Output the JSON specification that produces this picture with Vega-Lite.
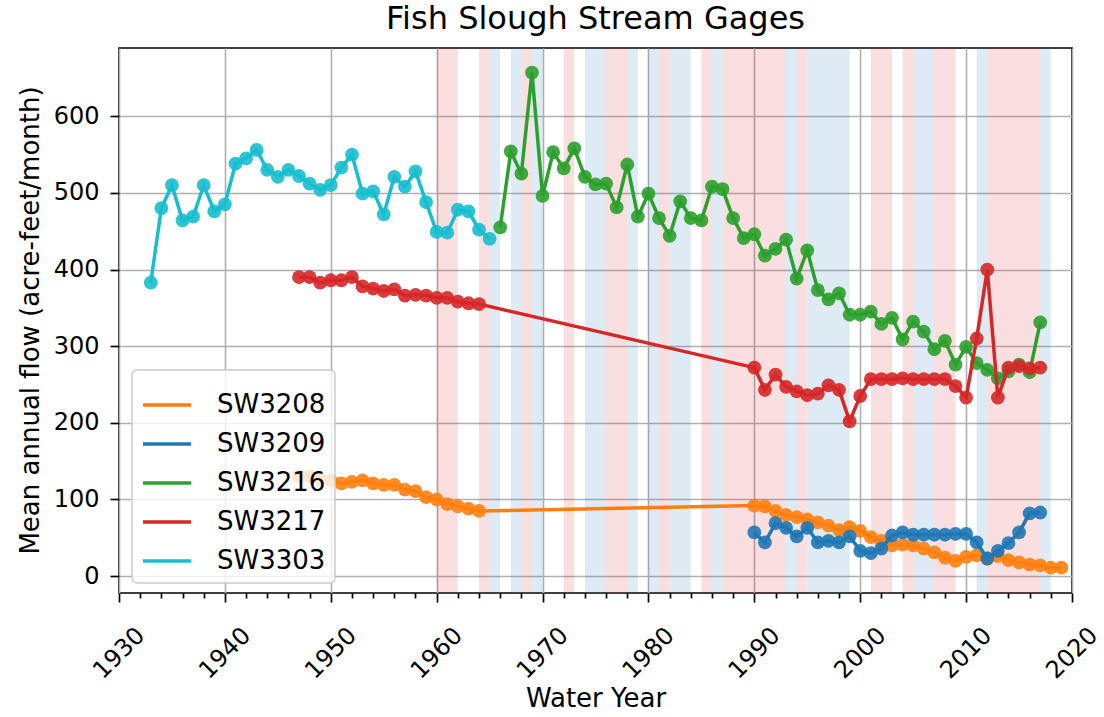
{
  "$schema": "https://vega.github.io/schema/vega-lite/v6.json",
  "width": 953,
  "height": 545,
  "autosize": {"type": "none"},
  "padding": {"left": 119, "top": 48, "right": 32, "bottom": 124},
  "title": {"text": "Fish Slough Stream Gages", "fontSize": 32, "font": "DejaVu Sans", "fontWeight": "normal", "color": "black", "baseline": "alphabetic", "offset": 16, "dy": 29},
  "datasets": {
    "bands": [
      {"start": 1960, "end": 1962, "kind": "dry"},
      {"start": 1964, "end": 1965, "kind": "dry"},
      {"start": 1965, "end": 1966, "kind": "wet"},
      {"start": 1967, "end": 1968, "kind": "wet"},
      {"start": 1968, "end": 1969, "kind": "dry"},
      {"start": 1969, "end": 1970, "kind": "wet"},
      {"start": 1972, "end": 1973, "kind": "dry"},
      {"start": 1974, "end": 1976, "kind": "wet"},
      {"start": 1976, "end": 1978, "kind": "dry"},
      {"start": 1978, "end": 1979, "kind": "wet"},
      {"start": 1980, "end": 1981, "kind": "wet"},
      {"start": 1981, "end": 1982, "kind": "dry"},
      {"start": 1982, "end": 1984, "kind": "wet"},
      {"start": 1985, "end": 1986, "kind": "dry"},
      {"start": 1986, "end": 1987, "kind": "wet"},
      {"start": 1987, "end": 1993, "kind": "dry"},
      {"start": 1993, "end": 1994, "kind": "wet"},
      {"start": 1994, "end": 1995, "kind": "dry"},
      {"start": 1995, "end": 1999, "kind": "wet"},
      {"start": 2001, "end": 2003, "kind": "dry"},
      {"start": 2004, "end": 2005, "kind": "dry"},
      {"start": 2005, "end": 2007, "kind": "wet"},
      {"start": 2007, "end": 2009, "kind": "dry"},
      {"start": 2011, "end": 2012, "kind": "wet"},
      {"start": 2012, "end": 2017, "kind": "dry"},
      {"start": 2017, "end": 2018, "kind": "wet"}
    ],
    "flows": [
      {"series": "SW3208", "year": 1947, "flow": 130},
      {"series": "SW3208", "year": 1948, "flow": 130},
      {"series": "SW3208", "year": 1949, "flow": 127},
      {"series": "SW3208", "year": 1950, "flow": 125},
      {"series": "SW3208", "year": 1951, "flow": 121},
      {"series": "SW3208", "year": 1952, "flow": 123},
      {"series": "SW3208", "year": 1953, "flow": 125},
      {"series": "SW3208", "year": 1954, "flow": 121},
      {"series": "SW3208", "year": 1955, "flow": 119},
      {"series": "SW3208", "year": 1956, "flow": 119},
      {"series": "SW3208", "year": 1957, "flow": 113},
      {"series": "SW3208", "year": 1958, "flow": 111},
      {"series": "SW3208", "year": 1959, "flow": 103},
      {"series": "SW3208", "year": 1960, "flow": 100},
      {"series": "SW3208", "year": 1961, "flow": 94},
      {"series": "SW3208", "year": 1962, "flow": 91},
      {"series": "SW3208", "year": 1963, "flow": 88},
      {"series": "SW3208", "year": 1964, "flow": 85},
      {"series": "SW3208", "year": 1990, "flow": 92},
      {"series": "SW3208", "year": 1991, "flow": 91},
      {"series": "SW3208", "year": 1992, "flow": 85},
      {"series": "SW3208", "year": 1993, "flow": 80},
      {"series": "SW3208", "year": 1994, "flow": 77},
      {"series": "SW3208", "year": 1995, "flow": 74},
      {"series": "SW3208", "year": 1996, "flow": 70},
      {"series": "SW3208", "year": 1997, "flow": 66},
      {"series": "SW3208", "year": 1998, "flow": 60},
      {"series": "SW3208", "year": 1999, "flow": 64},
      {"series": "SW3208", "year": 2000, "flow": 59},
      {"series": "SW3208", "year": 2001, "flow": 51},
      {"series": "SW3208", "year": 2002, "flow": 46},
      {"series": "SW3208", "year": 2003, "flow": 40},
      {"series": "SW3208", "year": 2004, "flow": 41},
      {"series": "SW3208", "year": 2005, "flow": 40},
      {"series": "SW3208", "year": 2006, "flow": 36},
      {"series": "SW3208", "year": 2007, "flow": 31},
      {"series": "SW3208", "year": 2008, "flow": 24},
      {"series": "SW3208", "year": 2009, "flow": 20},
      {"series": "SW3208", "year": 2010, "flow": 25},
      {"series": "SW3208", "year": 2011, "flow": 27},
      {"series": "SW3208", "year": 2012, "flow": 23},
      {"series": "SW3208", "year": 2013, "flow": 26},
      {"series": "SW3208", "year": 2014, "flow": 21},
      {"series": "SW3208", "year": 2015, "flow": 18},
      {"series": "SW3208", "year": 2016, "flow": 15},
      {"series": "SW3208", "year": 2017, "flow": 14},
      {"series": "SW3208", "year": 2018, "flow": 11},
      {"series": "SW3208", "year": 2019, "flow": 11},
      {"series": "SW3209", "year": 1990, "flow": 57},
      {"series": "SW3209", "year": 1991, "flow": 44},
      {"series": "SW3209", "year": 1992, "flow": 69},
      {"series": "SW3209", "year": 1993, "flow": 63},
      {"series": "SW3209", "year": 1994, "flow": 52},
      {"series": "SW3209", "year": 1995, "flow": 63},
      {"series": "SW3209", "year": 1996, "flow": 44},
      {"series": "SW3209", "year": 1997, "flow": 46},
      {"series": "SW3209", "year": 1998, "flow": 44},
      {"series": "SW3209", "year": 1999, "flow": 52},
      {"series": "SW3209", "year": 2000, "flow": 33},
      {"series": "SW3209", "year": 2001, "flow": 30},
      {"series": "SW3209", "year": 2002, "flow": 36},
      {"series": "SW3209", "year": 2003, "flow": 53},
      {"series": "SW3209", "year": 2004, "flow": 57},
      {"series": "SW3209", "year": 2005, "flow": 54},
      {"series": "SW3209", "year": 2006, "flow": 54},
      {"series": "SW3209", "year": 2007, "flow": 54},
      {"series": "SW3209", "year": 2008, "flow": 54},
      {"series": "SW3209", "year": 2009, "flow": 55},
      {"series": "SW3209", "year": 2010, "flow": 55},
      {"series": "SW3209", "year": 2011, "flow": 44},
      {"series": "SW3209", "year": 2012, "flow": 23},
      {"series": "SW3209", "year": 2013, "flow": 33},
      {"series": "SW3209", "year": 2014, "flow": 43},
      {"series": "SW3209", "year": 2015, "flow": 57},
      {"series": "SW3209", "year": 2016, "flow": 82},
      {"series": "SW3209", "year": 2017, "flow": 83},
      {"series": "SW3216", "year": 1966, "flow": 455},
      {"series": "SW3216", "year": 1967, "flow": 554},
      {"series": "SW3216", "year": 1968, "flow": 525},
      {"series": "SW3216", "year": 1969, "flow": 657},
      {"series": "SW3216", "year": 1970, "flow": 496},
      {"series": "SW3216", "year": 1971, "flow": 553},
      {"series": "SW3216", "year": 1972, "flow": 532},
      {"series": "SW3216", "year": 1973, "flow": 558},
      {"series": "SW3216", "year": 1974, "flow": 521},
      {"series": "SW3216", "year": 1975, "flow": 511},
      {"series": "SW3216", "year": 1976, "flow": 512},
      {"series": "SW3216", "year": 1977, "flow": 481},
      {"series": "SW3216", "year": 1978, "flow": 537},
      {"series": "SW3216", "year": 1979, "flow": 469},
      {"series": "SW3216", "year": 1980, "flow": 499},
      {"series": "SW3216", "year": 1981, "flow": 467},
      {"series": "SW3216", "year": 1982, "flow": 444},
      {"series": "SW3216", "year": 1983, "flow": 489},
      {"series": "SW3216", "year": 1984, "flow": 467},
      {"series": "SW3216", "year": 1985, "flow": 464},
      {"series": "SW3216", "year": 1986, "flow": 508},
      {"series": "SW3216", "year": 1987, "flow": 505},
      {"series": "SW3216", "year": 1988, "flow": 467},
      {"series": "SW3216", "year": 1989, "flow": 441},
      {"series": "SW3216", "year": 1990, "flow": 446},
      {"series": "SW3216", "year": 1991, "flow": 418},
      {"series": "SW3216", "year": 1992, "flow": 427},
      {"series": "SW3216", "year": 1993, "flow": 439},
      {"series": "SW3216", "year": 1994, "flow": 388},
      {"series": "SW3216", "year": 1995, "flow": 425},
      {"series": "SW3216", "year": 1996, "flow": 373},
      {"series": "SW3216", "year": 1997, "flow": 361},
      {"series": "SW3216", "year": 1998, "flow": 369},
      {"series": "SW3216", "year": 1999, "flow": 341},
      {"series": "SW3216", "year": 2000, "flow": 341},
      {"series": "SW3216", "year": 2001, "flow": 345},
      {"series": "SW3216", "year": 2002, "flow": 329},
      {"series": "SW3216", "year": 2003, "flow": 337},
      {"series": "SW3216", "year": 2004, "flow": 309},
      {"series": "SW3216", "year": 2005, "flow": 332},
      {"series": "SW3216", "year": 2006, "flow": 319},
      {"series": "SW3216", "year": 2007, "flow": 296},
      {"series": "SW3216", "year": 2008, "flow": 307},
      {"series": "SW3216", "year": 2009, "flow": 276},
      {"series": "SW3216", "year": 2010, "flow": 299},
      {"series": "SW3216", "year": 2011, "flow": 278},
      {"series": "SW3216", "year": 2012, "flow": 269},
      {"series": "SW3216", "year": 2013, "flow": 258},
      {"series": "SW3216", "year": 2014, "flow": 267},
      {"series": "SW3216", "year": 2015, "flow": 276},
      {"series": "SW3216", "year": 2016, "flow": 266},
      {"series": "SW3216", "year": 2017, "flow": 331},
      {"series": "SW3217", "year": 1947, "flow": 390},
      {"series": "SW3217", "year": 1948, "flow": 390},
      {"series": "SW3217", "year": 1949, "flow": 383},
      {"series": "SW3217", "year": 1950, "flow": 386},
      {"series": "SW3217", "year": 1951, "flow": 386},
      {"series": "SW3217", "year": 1952, "flow": 390},
      {"series": "SW3217", "year": 1953, "flow": 378},
      {"series": "SW3217", "year": 1954, "flow": 375},
      {"series": "SW3217", "year": 1955, "flow": 372},
      {"series": "SW3217", "year": 1956, "flow": 374},
      {"series": "SW3217", "year": 1957, "flow": 366},
      {"series": "SW3217", "year": 1958, "flow": 367},
      {"series": "SW3217", "year": 1959, "flow": 366},
      {"series": "SW3217", "year": 1960, "flow": 363},
      {"series": "SW3217", "year": 1961, "flow": 363},
      {"series": "SW3217", "year": 1962, "flow": 358},
      {"series": "SW3217", "year": 1963, "flow": 356},
      {"series": "SW3217", "year": 1964, "flow": 355},
      {"series": "SW3217", "year": 1990, "flow": 272},
      {"series": "SW3217", "year": 1991, "flow": 243},
      {"series": "SW3217", "year": 1992, "flow": 263},
      {"series": "SW3217", "year": 1993, "flow": 247},
      {"series": "SW3217", "year": 1994, "flow": 241},
      {"series": "SW3217", "year": 1995, "flow": 236},
      {"series": "SW3217", "year": 1996, "flow": 238},
      {"series": "SW3217", "year": 1997, "flow": 249},
      {"series": "SW3217", "year": 1998, "flow": 243},
      {"series": "SW3217", "year": 1999, "flow": 202},
      {"series": "SW3217", "year": 2000, "flow": 235},
      {"series": "SW3217", "year": 2001, "flow": 257},
      {"series": "SW3217", "year": 2002, "flow": 257},
      {"series": "SW3217", "year": 2003, "flow": 257},
      {"series": "SW3217", "year": 2004, "flow": 258},
      {"series": "SW3217", "year": 2005, "flow": 257},
      {"series": "SW3217", "year": 2006, "flow": 257},
      {"series": "SW3217", "year": 2007, "flow": 257},
      {"series": "SW3217", "year": 2008, "flow": 257},
      {"series": "SW3217", "year": 2009, "flow": 248},
      {"series": "SW3217", "year": 2010, "flow": 233},
      {"series": "SW3217", "year": 2011, "flow": 310},
      {"series": "SW3217", "year": 2012, "flow": 400},
      {"series": "SW3217", "year": 2013, "flow": 233},
      {"series": "SW3217", "year": 2014, "flow": 272},
      {"series": "SW3217", "year": 2015, "flow": 274},
      {"series": "SW3217", "year": 2016, "flow": 271},
      {"series": "SW3217", "year": 2017, "flow": 272},
      {"series": "SW3303", "year": 1933, "flow": 383},
      {"series": "SW3303", "year": 1934, "flow": 480},
      {"series": "SW3303", "year": 1935, "flow": 510},
      {"series": "SW3303", "year": 1936, "flow": 464},
      {"series": "SW3303", "year": 1937, "flow": 469},
      {"series": "SW3303", "year": 1938, "flow": 510},
      {"series": "SW3303", "year": 1939, "flow": 476},
      {"series": "SW3303", "year": 1940, "flow": 485},
      {"series": "SW3303", "year": 1941, "flow": 538},
      {"series": "SW3303", "year": 1942, "flow": 545},
      {"series": "SW3303", "year": 1943, "flow": 556},
      {"series": "SW3303", "year": 1944, "flow": 530},
      {"series": "SW3303", "year": 1945, "flow": 521},
      {"series": "SW3303", "year": 1946, "flow": 530},
      {"series": "SW3303", "year": 1947, "flow": 522},
      {"series": "SW3303", "year": 1948, "flow": 512},
      {"series": "SW3303", "year": 1949, "flow": 504},
      {"series": "SW3303", "year": 1950, "flow": 510},
      {"series": "SW3303", "year": 1951, "flow": 533},
      {"series": "SW3303", "year": 1952, "flow": 550},
      {"series": "SW3303", "year": 1953, "flow": 499},
      {"series": "SW3303", "year": 1954, "flow": 502},
      {"series": "SW3303", "year": 1955, "flow": 472},
      {"series": "SW3303", "year": 1956, "flow": 521},
      {"series": "SW3303", "year": 1957, "flow": 508},
      {"series": "SW3303", "year": 1958, "flow": 528},
      {"series": "SW3303", "year": 1959, "flow": 488},
      {"series": "SW3303", "year": 1960, "flow": 449},
      {"series": "SW3303", "year": 1961, "flow": 448},
      {"series": "SW3303", "year": 1962, "flow": 478},
      {"series": "SW3303", "year": 1963, "flow": 476},
      {"series": "SW3303", "year": 1964, "flow": 452},
      {"series": "SW3303", "year": 1965, "flow": 440}
    ]
  },
  "layer": [
    {
      "data": {"name": "bands"},
      "mark": {"type": "rect", "opacity": 0.15},
      "encoding": {
        "x": {
          "field": "start", "type": "quantitative",
          "scale": {"domain": [1930, 2020], "nice": false, "zero": false},
          "axis": {
            "title": "Water Year",
            "values": [1930,1932,1934,1936,1938,1940,1942,1944,1946,1948,1950,1952,1954,1956,1958,1960,1962,1964,1966,1968,1970,1972,1974,1976,1978,1980,1982,1984,1986,1988,1990,1992,1994,1996,1998,2000,2002,2004,2006,2008,2010,2012,2014,2016,2018,2020],
            "format": "d",
            "labelExpr": "datum.value % 10 === 0 ? datum.label : ''",
            "labelAngle": -45,
            "labelAlign": "center",
            "labelBaseline": "middle",
            "labelPadding": 51,
            "labelOverlap": false,
            "labelFlush": false,
            "tickSize": {"condition": {"test": "datum.value % 10 === 0", "value": 9}, "value": 5},
            "grid": true,
            "gridOpacity": {"condition": {"test": "datum.value % 10 === 0", "value": 1}, "value": 0},
            "titleY": 105,
            "titleBaseline": "middle"
          }
        },
        "x2": {"field": "end"},
        "fill": {"field": "kind", "type": "nominal", "scale": {"domain": ["dry", "wet"], "range": ["#d62728", "#1f77b4"]}, "legend": null}
      }
    },
    {
      "data": {"name": "flows"},
      "encoding": {
        "x": {
          "field": "year", "type": "quantitative",
          "scale": {"domain": [1930, 2020], "nice": false, "zero": false},
          "axis": {
            "title": "Water Year",
            "values": [1930,1932,1934,1936,1938,1940,1942,1944,1946,1948,1950,1952,1954,1956,1958,1960,1962,1964,1966,1968,1970,1972,1974,1976,1978,1980,1982,1984,1986,1988,1990,1992,1994,1996,1998,2000,2002,2004,2006,2008,2010,2012,2014,2016,2018,2020],
            "format": "d",
            "labelExpr": "datum.value % 10 === 0 ? datum.label : ''",
            "labelAngle": -45,
            "labelAlign": "center",
            "labelBaseline": "middle",
            "labelPadding": 51,
            "labelOverlap": false,
            "labelFlush": false,
            "tickSize": {"condition": {"test": "datum.value % 10 === 0", "value": 9}, "value": 5},
            "grid": true,
            "gridOpacity": {"condition": {"test": "datum.value % 10 === 0", "value": 1}, "value": 0},
            "titleY": 105,
            "titleBaseline": "middle"
          }
        },
        "y": {
          "field": "flow", "type": "quantitative",
          "scale": {"domain": [-22, 689], "nice": false, "zero": false},
          "axis": {
            "title": "Mean annual flow (acre-feet/month)",
            "values": [0, 100, 200, 300, 400, 500, 600],
            "tickSize": 9,
            "labelPadding": 11,
            "grid": true,
            "titleX": -89,
            "titleY": 272,
            "titleAngle": 270,
            "titleAlign": "center",
            "titleBaseline": "middle"
          }
        }
      },
      "layer": [
        {"transform": [{"filter": "datum.series === 'SW3208'"}], "mark": {"type": "line", "strokeWidth": 3.5}, "encoding": {"color": {"field": "series", "type": "nominal", "title": null, "scale": {"domain": ["SW3208", "SW3209", "SW3216", "SW3217", "SW3303"], "range": ["#ff7f0e", "#1f77b4", "#2ca02c", "#d62728", "#17becf"]}}}},
        {"transform": [{"filter": "datum.series === 'SW3208'"}], "mark": {"type": "point", "filled": true, "size": 190, "opacity": 0.9, "color": "#ff7f0e"}},
        {"transform": [{"filter": "datum.series === 'SW3209'"}], "mark": {"type": "line", "strokeWidth": 3.5}, "encoding": {"color": {"field": "series", "type": "nominal", "title": null}}},
        {"transform": [{"filter": "datum.series === 'SW3209'"}], "mark": {"type": "point", "filled": true, "size": 190, "opacity": 0.9, "color": "#1f77b4"}},
        {"transform": [{"filter": "datum.series === 'SW3216'"}], "mark": {"type": "line", "strokeWidth": 3.5}, "encoding": {"color": {"field": "series", "type": "nominal", "title": null}}},
        {"transform": [{"filter": "datum.series === 'SW3216'"}], "mark": {"type": "point", "filled": true, "size": 190, "opacity": 0.9, "color": "#2ca02c"}},
        {"transform": [{"filter": "datum.series === 'SW3217'"}], "mark": {"type": "line", "strokeWidth": 3.5}, "encoding": {"color": {"field": "series", "type": "nominal", "title": null}}},
        {"transform": [{"filter": "datum.series === 'SW3217'"}], "mark": {"type": "point", "filled": true, "size": 190, "opacity": 0.9, "color": "#d62728"}},
        {"transform": [{"filter": "datum.series === 'SW3303'"}], "mark": {"type": "line", "strokeWidth": 3.5}, "encoding": {"color": {"field": "series", "type": "nominal", "title": null}}},
        {"transform": [{"filter": "datum.series === 'SW3303'"}], "mark": {"type": "point", "filled": true, "size": 190, "opacity": 0.9, "color": "#17becf"}}
      ]
    }
  ],
  "config": {
    "font": "DejaVu Sans",
    "view": {"stroke": "black", "strokeWidth": 1.7},
    "axis": {
      "domain": false,
      "tickColor": "black",
      "tickWidth": 1.7,
      "labelColor": "black",
      "labelFont": "DejaVu Sans",
      "labelFontSize": 24,
      "titleFont": "DejaVu Sans",
      "titleFontSize": 26,
      "titleFontWeight": "normal",
      "titleColor": "black",
      "gridColor": "#b0b0b0",
      "gridWidth": 1.6
    },
    "legend": {
      "orient": "none",
      "legendX": 13,
      "legendY": 322,
      "fillColor": "rgba(255,255,255,0.8)",
      "strokeColor": "#cccccc",
      "strokeWidth": 1.5,
      "cornerRadius": 5,
      "padding": 9,
      "labelFont": "DejaVu Sans",
      "labelFontSize": 26,
      "labelColor": "black",
      "symbolType": "stroke",
      "symbolStrokeWidth": 3.5,
      "symbolSize": 2300,
      "labelOffset": 24,
      "rowPadding": 0
    }
  }
}
